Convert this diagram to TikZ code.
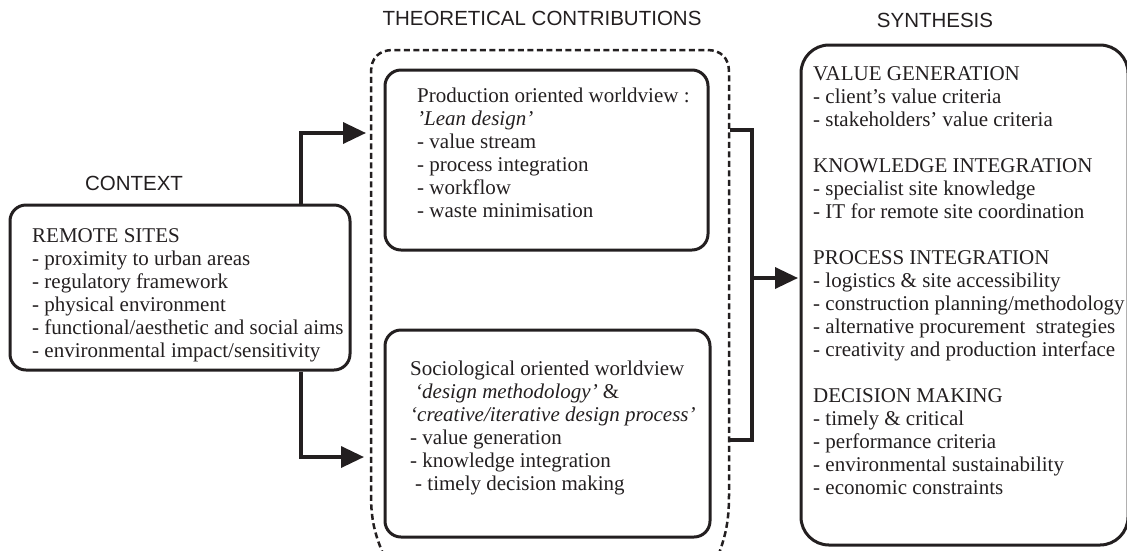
\documentclass[tikz,border=0pt]{standalone}
\usepackage{fontspec}
\setmainfont{Liberation Serif}
\newfontfamily\headfont{Liberation Sans}
\usetikzlibrary{arrows.meta}
\definecolor{ink}{RGB}{35,31,32}
\begin{document}
\begin{tikzpicture}[x=1pt,y=-1pt,
  box/.style={draw=ink, line width=3pt, rounded corners=16pt, inner sep=0pt},
  txt/.style={anchor=north west, align=left, inner sep=0pt, text=ink, font=\fontsize{21}{23}\selectfont},
  head/.style={inner sep=0pt, text=ink, font=\headfont\fontsize{20.5}{24}\selectfont},
  wire/.style={draw=ink, line width=3.5pt},
  conn/.style={draw=ink, line width=3.5pt, -{Triangle[length=23pt,width=21pt]}},
  outer/.style={draw=ink, line width=2.5pt, dash pattern=on 6pt off 3.5pt}
]
\useasboundingbox (0,0) rectangle (1127,550);
\begin{scope}
\clip (0,0) rectangle (1127,550);
% outer dashed frame
\draw[outer] (384,556) .. controls (375,535) and (371,520) .. (371,495)
  -- (371,72) .. controls (371,58) and (379,50) .. (393,50)
  -- (707,50) .. controls (721,50) and (729,58) .. (729,72)
  -- (729,495) .. controls (729,520) and (726,535) .. (718,556);
% boxes
\node[box, minimum width=340pt, minimum height=165pt] (ctx) at (180,287.5) {};
\node[box, minimum width=323pt, minimum height=180pt] (up) at (546.5,160) {};
\node[box, minimum width=325pt, minimum height=207pt] (lo) at (547.5,433.5) {};
\node[box, rounded corners=28pt, minimum width=327pt, minimum height=500pt] (syn) at (964.5,295) {};
\end{scope}
% headings
\node[head] (hctx) at (134,183) {CONTEXT};
\node[head] (htc) at (542,18) {THEORETICAL CONTRIBUTIONS};
\node[head] (hsyn) at (935,20) {SYNTHESIS};
% texts
\node[txt] (tctx) at (32,228) {REMOTE SITES\\
- proximity to urban areas\\
- regulatory framework\\
- physical environment\\
- functional/aesthetic and social aims\\
- environmental impact/sensitivity};
\node[txt] (tup) at (417,88) {Production oriented worldview :\\
\textit{’Lean design’}\\
- value stream\\
- process integration\\
- workflow\\
- waste minimisation};
\node[txt] (tlo) at (410,361) {Sociological oriented worldview\\
\hspace*{5pt}\textit{‘design methodology’} \&\\
\textit{‘creative/iterative design process’}\\
- value generation\\
- knowledge integration\\
\hspace*{5pt}- timely decision making};
\node[txt] (tsyn) at (813,66) {VALUE GENERATION\\
- client’s value criteria\\
- stakeholders’ value criteria\\[23pt]
KNOWLEDGE INTEGRATION\\
- specialist site knowledge\\
- IT for remote site coordination\\[23pt]
PROCESS INTEGRATION\\
- logistics \& site accessibility\\
- construction planning/methodology\\
- alternative procurement\ \ strategies\\
- creativity and production interface\\[23pt]
DECISION MAKING\\
- timely \& critical\\
- performance criteria\\
- environmental sustainability\\
- economic constraints};
% connectors
\coordinate (j1) at (301,133);
\coordinate (t1) at (366,133);
\coordinate (j2) at (301,457);
\coordinate (t2) at (364,457);
\draw[conn] (j1 |- ctx.north) -- (j1) -- (t1);
\draw[conn] (j2 |- ctx.south) -- (j2) -- (t2);
\coordinate (b1) at (730,130);
\coordinate (b2) at (730,440);
\coordinate (bm) at (752,278);
\draw[wire] (b1) -- (752,130) -- (752,440) -- (b2);
\draw[conn, shorten >=1.5pt] (bm) -- (bm -| syn.west);
\end{tikzpicture}
\end{document}
